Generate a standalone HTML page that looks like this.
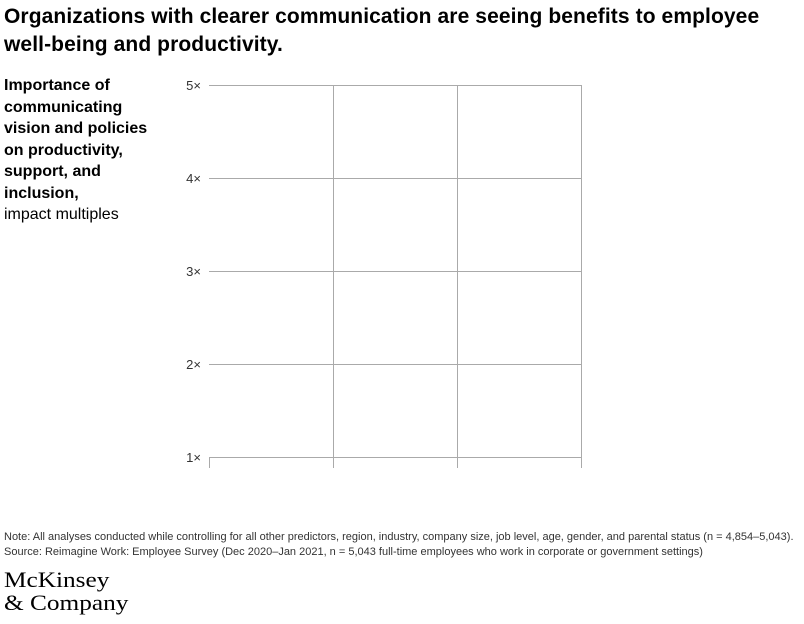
<!DOCTYPE html>
<html><head><meta charset="utf-8"><style>
body{margin:0;width:804px;height:624px;background:#fff;font-family:"Liberation Sans",sans-serif;color:#000;position:relative;overflow:hidden}
.t{position:absolute;left:4px;top:3px;font-size:21px;font-weight:bold;line-height:28px;letter-spacing:0.1px;width:780px}
.y{position:absolute;left:4px;top:75px;font-size:16px;line-height:21.5px;width:160px}
.n{position:absolute;left:4px;top:530px;font-size:11px;line-height:14.5px;color:#333;white-space:nowrap}
.l{position:absolute;left:4px;top:568px;font-family:"Liberation Serif",serif;font-size:22px;line-height:23px;letter-spacing:0px;transform:scaleX(1.15);transform-origin:left top}
</style></head><body>
<div class="t">Organizations with clearer communication are seeing benefits to employee<br>well-being and productivity.</div>
<div class="y"><b>Importance of communicating vision and policies on productivity, support, and inclusion,</b><br>impact multiples</div>
<svg width="804" height="624" style="position:absolute;left:0;top:0">
<g stroke="#aaa" stroke-width="1" fill="none">
<line x1="209" y1="85.5" x2="581" y2="85.5"/>
<line x1="209" y1="178.5" x2="581" y2="178.5"/>
<line x1="209" y1="271.5" x2="581" y2="271.5"/>
<line x1="209" y1="364.5" x2="581" y2="364.5"/>
<line x1="209" y1="457.5" x2="582" y2="457.5"/>
<line x1="333.5" y1="85" x2="333.5" y2="468"/>
<line x1="457.5" y1="85" x2="457.5" y2="468"/>
<line x1="581.5" y1="85" x2="581.5" y2="468"/>
<line x1="209.5" y1="457" x2="209.5" y2="468"/>
</g>
<g font-family="Liberation Sans" font-size="13" fill="#333" text-anchor="end">
<text x="201" y="90">5×</text><text x="201" y="183">4×</text><text x="201" y="276">3×</text><text x="201" y="369">2×</text><text x="201" y="462">1×</text>
</g>
</svg>
<div class="n">Note: All analyses conducted while controlling for all other predictors, region, industry, company size, job level, age, gender, and parental status (n = 4,854–5,043).<br>Source: Reimagine Work: Employee Survey (Dec 2020–Jan 2021, n = 5,043 full-time employees who work in corporate or government settings)</div>
<div class="l">McKinsey<br>&amp; Company</div>
</body></html>
